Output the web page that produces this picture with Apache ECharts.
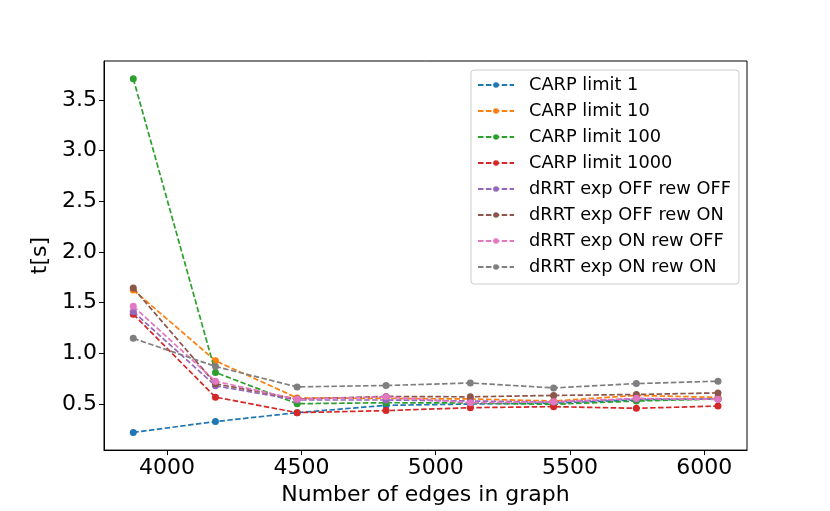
<!DOCTYPE html>
<html>
<head>
<meta charset="utf-8">
<script src="https://cdn.jsdelivr.net/npm/echarts@6/dist/echarts.min.js"></script>
<style>html,body{margin:0;padding:0;background:#fff;}#c{width:830px;height:511px;}</style>
</head>
<body>
<div id="c"></div>
<script>
var edges = [3874, 4180, 4484, 4815, 5129, 5439, 5747, 6051];
var seriesNames = ['CARP limit 1', 'CARP limit 10', 'CARP limit 100', 'CARP limit 1000',
  'dRRT exp OFF rew OFF', 'dRRT exp OFF rew ON', 'dRRT exp ON rew OFF', 'dRRT exp ON rew ON'];
var carp1    = [0.220, 0.327, 0.415, 0.487, 0.500, 0.510, 0.540, 0.550];
var carp10   = [1.626, 0.927, 0.560, 0.555, 0.550, 0.530, 0.585, 0.565];
var carp100  = [3.710, 0.812, 0.503, 0.513, 0.510, 0.497, 0.530, 0.550];
var carp1000 = [1.386, 0.568, 0.415, 0.435, 0.464, 0.474, 0.458, 0.480];
var drrtOffOff = [1.411, 0.680, 0.540, 0.540, 0.530, 0.520, 0.550, 0.550];
var drrtOffOn  = [1.645, 0.700, 0.550, 0.575, 0.571, 0.585, 0.594, 0.610];
var drrtOnOff  = [1.464, 0.725, 0.546, 0.571, 0.513, 0.522, 0.556, 0.546];
var drrtOnOn   = [1.148, 0.871, 0.669, 0.683, 0.708, 0.659, 0.702, 0.725];
var xTicks = [4000, 4500, 5000, 5500, 6000];
var yTicks = [0.5, 1.0, 1.5, 2.0, 2.5, 3.0, 3.5];
var colors = ['#1f77b4', '#ff7f0e', '#2ca02c', '#d62728', '#9467bd', '#8c564b', '#e377c2', '#7f7f7f'];

var allValues = [carp1, carp10, carp100, carp1000, drrtOffOff, drrtOffOn, drrtOnOff, drrtOnOn];
var font = 'DejaVu Sans';

var series = allValues.map(function (vals, i) {
  return {
    name: seriesNames[i],
    type: 'line',
    data: edges.map(function (x, j) { return [x, vals[j]]; }),
    symbol: 'circle',
    symbolSize: 7,
    showSymbol: true,
    itemStyle: { color: colors[i] },
    lineStyle: { color: colors[i], width: 1.7, type: [5.5, 2.4] },
    emphasis: { disabled: true },
    z: 2 + i
  };
});

var chart = echarts.init(document.getElementById('c'), null, { renderer: 'canvas' });
chart.setOption({
  animation: false,
  backgroundColor: '#ffffff',
  color: colors,
  grid: { left: 104, right: 83, top: 61, bottom: 57, show: true, borderColor: '#000', borderWidth: 1, backgroundColor: 'transparent' },
  legend: {
    orient: 'vertical',
    left: 471, top: 70,
    padding: [6, 8, 8, 6],
    itemWidth: 36, itemHeight: 7, itemGap: 8,
    backgroundColor: 'rgba(255,255,255,0.8)',
    borderColor: '#cccccc', borderWidth: 1, borderRadius: 3,
    textStyle: { fontFamily: font, fontSize: 17.8, color: '#000', padding: [0, 0, 0, 10], lineHeight: 18 },
    data: seriesNames
  },
  xAxis: {
    type: 'value', min: 3765, max: 6159,
    name: 'Number of edges in graph', nameLocation: 'middle', nameGap: 31,
    nameTextStyle: { fontFamily: font, fontSize: 22, color: '#000' },
    axisLine: { show: true, lineStyle: { color: '#000', width: 1 } },
    axisTick: { show: true, inside: false, length: 5, lineStyle: { color: '#000' }, customValues: xTicks },
    axisLabel: { fontFamily: font, fontSize: 22, color: '#000', margin: 7, customValues: xTicks,
      formatter: function (v) { return String(v); } },
    splitLine: { show: false }
  },
  yAxis: {
    type: 'value', min: 0.0455, max: 3.8845,
    name: 't[s]', nameLocation: 'middle', nameGap: 39, nameRotate: 90,
    nameTextStyle: { fontFamily: font, fontSize: 22, color: '#000' },
    axisLine: { show: true, lineStyle: { color: '#000', width: 1 } },
    axisTick: { show: true, inside: false, length: 5, lineStyle: { color: '#000' }, customValues: yTicks },
    axisLabel: { fontFamily: font, fontSize: 22, color: '#000', margin: 7, customValues: yTicks,
      formatter: function (v) { return v.toFixed(1); } },
    splitLine: { show: false }
  },
  series: series
});
</script>
</body>
</html>
